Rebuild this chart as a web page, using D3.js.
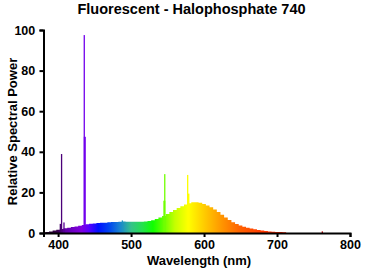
<!DOCTYPE html>
<html>
<head>
<meta charset="utf-8">
<script src="https://cdn.jsdelivr.net/npm/d3@7"></script>
<style>
  body { margin: 0; background: #fff; }
  text { font-family: "Liberation Sans", Arial, sans-serif; font-weight: bold; fill: #000; }
</style>
</head>
<body>
<div id="chart"></div>
<script>
// continuum of the lamp, 5 nm steps
const wavelengths = d3.range(380, 785, 5);
const power = [
  0.3, 0.5, 0.8, 1.2, 1.6, 2.0, 2.3, 2.6, 2.9, 3.2,   // 380-425
  3.6, 4.0, 4.3, 4.5, 4.7, 4.9, 5.0, 5.1, 5.3, 5.4,   // 430-475
  5.4, 5.5, 5.7, 5.6, 5.6, 5.6, 5.6, 5.6, 5.7, 5.9,   // 480-525
  6.3, 6.9, 7.6, 8.4, 9.3, 10.3, 11.3, 12.3, 13.2, 14.0, // 530-575
  14.6, 15.1, 15.2, 14.9, 14.3, 13.6, 12.7, 11.6, 10.4, 9.0, // 580-625
  7.6, 6.4, 5.3, 4.4, 3.7, 3.1, 2.6, 2.2, 1.8, 1.5,   // 630-675
  1.2, 1.0, 0.8, 0.65, 0.55, 0.45, 0.4, 0, 0, 0,      // 680-725
  0, 0, 0, 0, 0, 0, 0, 0, 0, 0, 0                     // 730-780
];

// mercury lines (narrow)
const lineWl  = [403, 404.7, 408, 435.8, 488, 546.1, 577.5, 762];
const linePow = [4.5, 38.9, 5.2, 97.5, 6.2, 29.0, 28.6, 0.8];
// broader base of the strong lines
const shoulderWl  = [436.6, 545.6, 578.6];
const shoulderPow = [47.4, 15.9, 19.4];

const xTicks = [400, 500, 600, 700, 800];
const yTicks = [0, 20, 40, 60, 80, 100];

// colour stops for the spectrum fill
const colorWl  = [380, 400, 410, 420, 432, 442, 455, 470, 485, 500, 515, 530, 545, 560, 578, 600, 625, 650, 680, 710, 760, 800];
const colorHex = ['#200020', '#380050', '#6000a8', '#7000c4', '#8000e0', '#5a00ff', '#0010ff', '#0045f0', '#1a85d0', '#35c28a',
                  '#25e050', '#10ff00', '#6aff00', '#c4ff00', '#ffff00', '#ffcc00', '#ff9400', '#ff6000', '#ff3800',
                  '#ff2200', '#c00000', '#a00000'];

const width = 369, height = 270;
const margin = {left: 43.5, right: 19, top: 30, bottom: 37};

const svg = d3.select('#chart').append('svg')
  .attr('width', width)
  .attr('height', height);

const x = d3.scaleLinear().domain([380, 800]).range([margin.left, width - margin.right]);
const y = d3.scaleLinear().domain([0, 100]).range([height - margin.bottom, margin.top]);

const color = d3.scaleLinear().domain(colorWl).range(colorHex).interpolate(d3.interpolateRgb);

const grad = svg.append('defs').append('linearGradient')
  .attr('id', 'spectrum')
  .attr('gradientUnits', 'userSpaceOnUse')
  .attr('x1', x(380)).attr('x2', x(800))
  .attr('y1', 0).attr('y2', 0);
grad.selectAll('stop')
  .data(colorWl)
  .enter().append('stop')
  .attr('offset', d => (d - 380) / 420)
  .attr('stop-color', d => color(d));

const series = wavelengths.map((w, i) => ({w: w, v: power[i]}));

const area = d3.area()
  .curve(d3.curveStep)
  .x(d => x(d.w))
  .y0(y(0))
  .y1(d => y(d.v));

svg.append('path')
  .datum(series)
  .attr('d', area)
  .attr('fill', 'url(#spectrum)');

svg.append('g')
  .selectAll('rect')
  .data(shoulderWl)
  .enter().append('rect')
  .attr('x', d => x(d) - 1)
  .attr('width', 2)
  .attr('y', (d, i) => y(shoulderPow[i]))
  .attr('height', (d, i) => y(0) - y(shoulderPow[i]))
  .attr('fill', d => color(d));

svg.append('g')
  .selectAll('rect')
  .data(lineWl)
  .enter().append('rect')
  .attr('x', d => x(d) - 0.6)
  .attr('width', 1.3)
  .attr('y', (d, i) => y(linePow[i]))
  .attr('height', (d, i) => y(0) - y(linePow[i]))
  .attr('fill', d => color(d));

// axes
const xAxis = svg.append('g')
  .attr('transform', `translate(0,${y(0)})`)
  .call(d3.axisBottom(x).tickValues(xTicks).tickSize(4).tickSizeOuter(4));
const yAxis = svg.append('g')
  .attr('transform', `translate(${margin.left},0)`)
  .call(d3.axisLeft(y).tickValues(yTicks).tickSize(4).tickSizeOuter(4));

[xAxis, yAxis].forEach(a => {
  a.select('.domain').attr('stroke', '#000').attr('stroke-width', 2);
  a.selectAll('.tick line').attr('stroke', '#000').attr('stroke-width', 2);
  a.selectAll('text').attr('font-size', 12.5).attr('font-family', null);
});
yAxis.selectAll('text').attr('dx', '-0.1em');

svg.append('text')
  .attr('x', 191.5)
  .attr('y', 14)
  .attr('text-anchor', 'middle')
  .attr('font-size', 14.5)
  .text('Fluorescent - Halophosphate 740');

svg.append('text')
  .attr('x', 199)
  .attr('y', 265)
  .attr('text-anchor', 'middle')
  .attr('font-size', 13)
  .text('Wavelength  (nm)');

svg.append('text')
  .attr('transform', `translate(17,${(y(0) + y(100)) / 2}) rotate(-90)`)
  .attr('text-anchor', 'middle')
  .attr('font-size', 13)
  .text('Relative Spectral  Power');
</script>
</body>
</html>
